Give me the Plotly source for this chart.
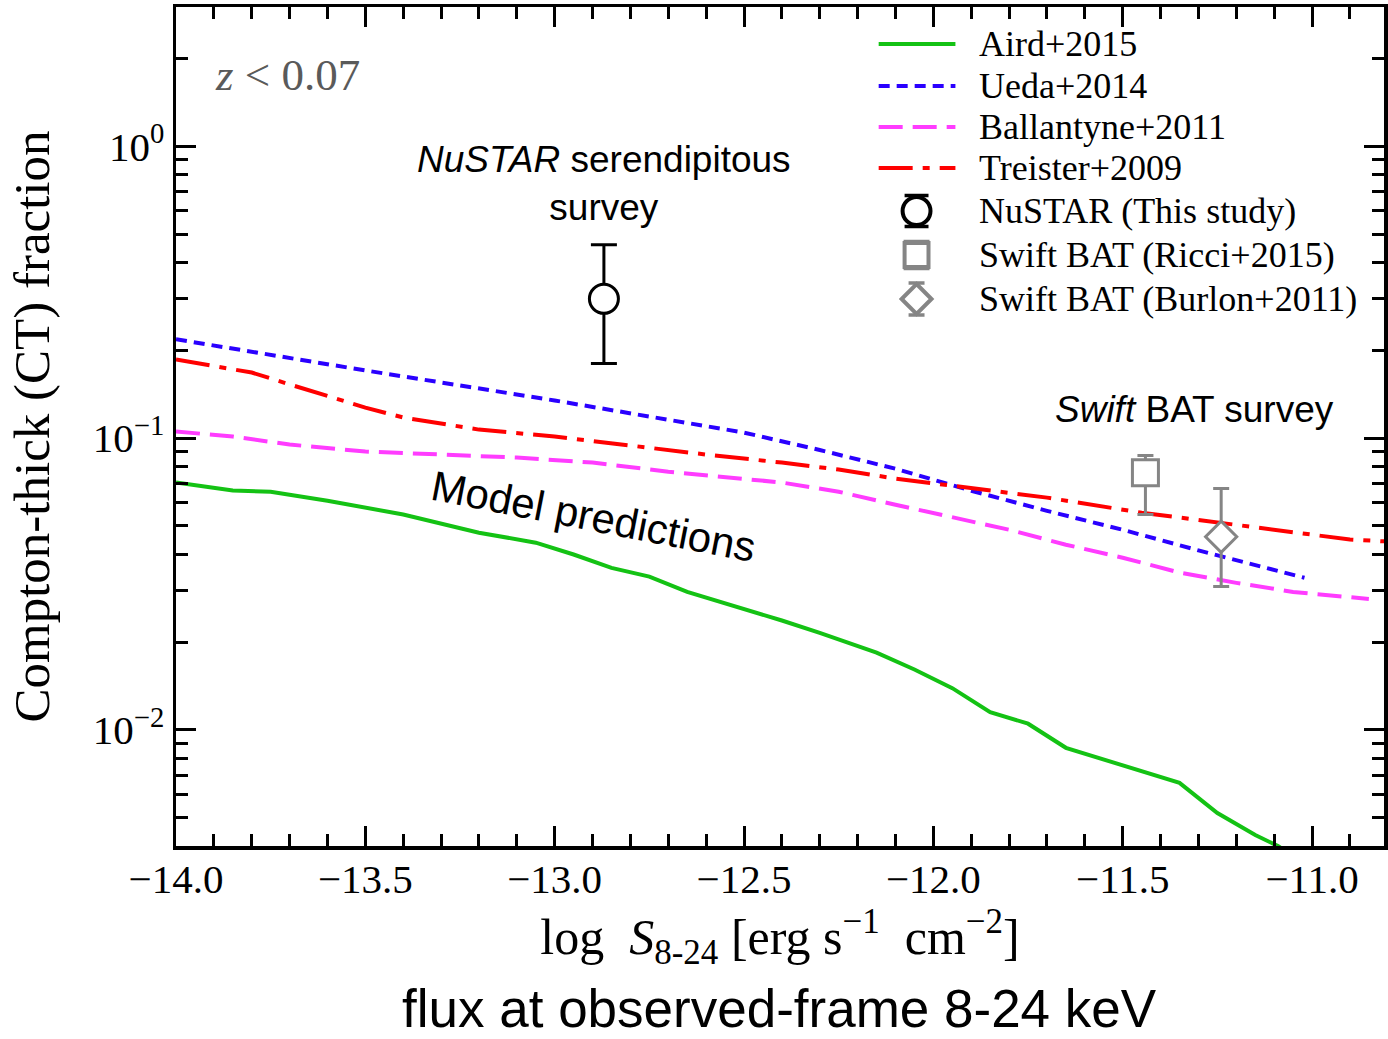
import math
import plotly.graph_objects as go

# ---------------- model curves: CT fraction vs log S(8-24 keV) ----------------
aird_logS = [-14.0, -13.85, -13.75, -13.6, -13.4, -13.2, -13.05, -12.95, -12.85,
             -12.75, -12.65, -12.5, -12.4, -12.3, -12.2, -12.15, -12.05, -11.95,
             -11.85, -11.75, -11.65, -11.45, -11.35, -11.25, -11.15, -11.09, -11.05]
aird_frac = [0.0704, 0.0661, 0.0655, 0.0610, 0.0547, 0.0474, 0.0438, 0.0399, 0.0359,
             0.0335, 0.0297, 0.0260, 0.0237, 0.0215, 0.0194, 0.0184, 0.0161, 0.0139,
             0.0115, 0.0105, 0.00868, 0.00723, 0.00658, 0.00519, 0.00436, 0.0040, 0.0037]

ueda_logS = [-14.0, -13.5, -13.0, -12.5, -12.3, -12.1, -11.9, -11.7, -11.5, -11.3, -11.02]
ueda_frac = [0.218, 0.1705, 0.1345, 0.1044, 0.0910, 0.0785, 0.0660, 0.0563, 0.0485, 0.0412, 0.0332]

ballantyne_logS = [-14.0, -13.85, -13.7, -13.5, -13.3, -13.1, -12.9, -12.7, -12.4, -12.25,
                   -12.1, -11.95, -11.8, -11.65, -11.5, -11.35, -11.2, -11.05, -10.85]
ballantyne_frac = [0.1053, 0.1012, 0.0950, 0.0899, 0.0878, 0.0857, 0.0824, 0.0767, 0.0704,
                   0.0655, 0.0591, 0.0534, 0.0485, 0.0431, 0.0389, 0.0346, 0.0319, 0.0297, 0.0281]

treister_logS = [-14.0, -13.8, -13.7, -13.5, -13.4, -13.2, -13.0, -12.8, -12.6, -12.4,
                 -12.25, -12.1, -11.9, -11.7, -11.45, -11.25, -11.05, -10.9, -10.8]
treister_frac = [0.1858, 0.1677, 0.1527, 0.1272, 0.1176, 0.1069, 0.1012, 0.0942, 0.0878,
                 0.0824, 0.0780, 0.0726, 0.0676, 0.0625, 0.0555, 0.0513, 0.0474, 0.0449, 0.0442]

# ---------------- measured CT fractions ----------------
nustar_logS = [-12.87]
nustar_frac = [0.30]
nustar_err_hi = [0.16]
nustar_err_lo = [0.12]

ricci_logS = [-11.44]
ricci_frac = [0.0761]
ricci_err_hi = [0.011]
ricci_err_lo = [0.0214]

burlon_logS = [-11.24]
burlon_frac = [0.0459]
burlon_err_hi = [0.0212]
burlon_err_lo = [0.0149]

# ---------------- axis ticks ----------------
x_tickvals = [-14.0, -13.5, -13.0, -12.5, -12.0, -11.5, -11.0]
y_tickvals = [1.0, 0.1, 0.01]
y_ticktext = ["10<sup>0</sup>", "10<sup>\u22121</sup>", "10<sup>\u22122</sup>"]

series_labels = ["Aird+2015", "Ueda+2014", "Ballantyne+2011", "Treister+2009"]
point_labels = ["NuSTAR (This study)", "Swift BAT (Ricci+2015)", "Swift BAT (Burlon+2011)"]

GREEN, BLUE, MAGENTA, RED = "#14c214", "#2a00ff", "#ff3cff", "#ff0000"
GRAY = "#858585"
SERIF = "Liberation Serif"
SANS = "Liberation Sans"

DASH_UEDA = "11px,7px"
DASH_BALL = "24px,10px"
DASH_TREI = "34px,10px,7px,10px"

W, H = 1388, 1039
PL, PR, PT, PB = 176, 1388, 7, 846  # plot-area edges in pixels


def fx(xp):
    return (xp - PL) / (PR - PL)


def fy(yp):
    return (PB - yp) / (PB - PT)


fig = go.Figure()

curves = [
    (aird_logS, aird_frac, GREEN, "solid"),
    (ueda_logS, ueda_frac, BLUE, DASH_UEDA),
    (ballantyne_logS, ballantyne_frac, MAGENTA, DASH_BALL),
    (treister_logS, treister_frac, RED, DASH_TREI),
]
for (xs, ys, col, dash), name in zip(curves, series_labels):
    fig.add_trace(go.Scatter(x=xs, y=ys, mode="lines", name=name,
                             line=dict(color=col, width=4, dash=dash)))

fig.add_trace(go.Scatter(
    x=nustar_logS, y=nustar_frac, mode="markers", name=point_labels[0],
    marker=dict(symbol="circle", size=29, color="white", line=dict(color="black", width=3)),
    error_y=dict(type="data", array=nustar_err_hi, arrayminus=nustar_err_lo,
                 color="black", thickness=3, width=13)))
fig.add_trace(go.Scatter(
    x=ricci_logS, y=ricci_frac, mode="markers", name=point_labels[1],
    marker=dict(symbol="square", size=26, color="white", line=dict(color=GRAY, width=3)),
    error_y=dict(type="data", array=ricci_err_hi, arrayminus=ricci_err_lo,
                 color=GRAY, thickness=3, width=8)))
fig.add_trace(go.Scatter(
    x=burlon_logS, y=burlon_frac, mode="markers", name=point_labels[2],
    marker=dict(symbol="diamond", size=24, color="white", line=dict(color=GRAY, width=3)),
    error_y=dict(type="data", array=burlon_err_hi, arrayminus=burlon_err_lo,
                 color=GRAY, thickness=3, width=8)))

# ---------------- hand-drawn legend ----------------
shapes = []
annotations = []
row_y = [44, 86, 127, 168, 211, 255, 299]
line_styles = [(GREEN, "solid"), (BLUE, DASH_UEDA), (MAGENTA, DASH_BALL), (RED, DASH_TREI)]
for (col, dash), yy in zip(line_styles, row_y[:4]):
    shapes.append(dict(type="line", xref="paper", yref="paper",
                       x0=fx(881), x1=fx(958), y0=fy(yy), y1=fy(yy),
                       line=dict(color=col, width=4, dash=dash)))
mx = 919
# circle with caps
yy = row_y[4]
shapes.append(dict(type="circle", xref="paper", yref="paper",
                   x0=fx(mx - 14), x1=fx(mx + 14), y0=fy(yy + 14), y1=fy(yy - 14),
                   line=dict(color="black", width=4), fillcolor="white"))
for d in (-15.5, 15.5):
    shapes.append(dict(type="line", xref="paper", yref="paper",
                       x0=fx(mx - 12), x1=fx(mx + 12), y0=fy(yy + d), y1=fy(yy + d),
                       line=dict(color="black", width=3.5)))
# square with caps
yy = row_y[5]
shapes.append(dict(type="rect", xref="paper", yref="paper",
                   x0=fx(mx - 12), x1=fx(mx + 12), y0=fy(yy + 12), y1=fy(yy - 12),
                   line=dict(color=GRAY, width=4), fillcolor="white"))
for d in (-13.5, 13.5):
    shapes.append(dict(type="line", xref="paper", yref="paper",
                       x0=fx(mx - 13), x1=fx(mx + 13), y0=fy(yy + d), y1=fy(yy + d),
                       line=dict(color=GRAY, width=3.5)))
# diamond with caps
yy = row_y[6]
r = 15
path = "M {} {} L {} {} L {} {} L {} {} Z".format(
    fx(mx), fy(yy - r), fx(mx + r), fy(yy), fx(mx), fy(yy + r), fx(mx - r), fy(yy))
shapes.append(dict(type="path", xref="paper", yref="paper", path=path,
                   line=dict(color=GRAY, width=4), fillcolor="white"))
for d in (-16, 16):
    shapes.append(dict(type="line", xref="paper", yref="paper",
                       x0=fx(mx - 8), x1=fx(mx + 8), y0=fy(yy + d), y1=fy(yy + d),
                       line=dict(color=GRAY, width=3.5)))

for lab, yy in zip(series_labels + point_labels, row_y):
    annotations.append(dict(xref="paper", yref="paper", x=fx(980), y=fy(yy),
                            xanchor="left", yanchor="middle", showarrow=False, text=lab,
                            font=dict(family=SERIF, size=36, color="black")))

# ---------------- text labels ----------------
annotations += [
    dict(xref="paper", yref="paper", x=fx(213), y=fy(75), xanchor="left", yanchor="middle",
         showarrow=False, text="<i>z</i>\u2005<\u20050.07",
         font=dict(family=SERIF, size=45, color="#5a5a5a")),
    dict(xref="paper", yref="paper", x=fx(605), y=fy(184), xanchor="center", yanchor="middle",
         showarrow=False, text="<i>NuSTAR</i> serendipitous<br>survey",
         font=dict(family=SANS, size=37, color="black")),
    dict(xref="paper", yref="paper", x=fx(1198), y=fy(410), xanchor="center", yanchor="middle",
         showarrow=False, text="<i>Swift</i> BAT survey",
         font=dict(family=SANS, size=37, color="black")),
    dict(xref="paper", yref="paper", x=fx(595), y=fy(516), xanchor="center", yanchor="middle",
         showarrow=False, text="Model predictions", textangle=11,
         font=dict(family=SANS, size=42, color="black")),
    dict(xref="paper", yref="paper", x=fx(781), y=fy(1040), xanchor="center", yanchor="bottom",
         showarrow=False, text="flux at observed-frame 8-24 keV",
         font=dict(family=SANS, size=53, color="black")),
]

axis_common = dict(showline=True, linecolor="black", linewidth=3.5, mirror="ticks",
                   ticks="inside", ticklen=20, tickwidth=3, tickcolor="black",
                   showgrid=False, zeroline=False)

fig.update_layout(
    width=W, height=H,
    margin=dict(l=PL, r=W - PR, t=PT, b=H - PB),
    paper_bgcolor="white", plot_bgcolor="white",
    showlegend=False, hovermode=False,
    shapes=shapes, annotations=annotations,
    xaxis=dict(range=[-14.0, -10.81], tickvals=x_tickvals, tickformat=".1f",
               minor=dict(ticks="inside", ticklen=12, tickwidth=3, tickcolor="black",
                          dtick=0.1, tick0=-14.0, showgrid=False),
               tickfont=dict(family=SERIF, size=41, color="black"),
               ticklabelstandoff=-6,
               title=dict(text="log\u2002<i>S</i><sub>8-24</sub>\u00a0[erg\u00a0s<sup>\u22121</sup>\u00a0\u00a0cm<sup>\u22122</sup>]",
                          font=dict(family=SERIF, size=50, color="black"), standoff=9),
               **axis_common),
    yaxis=dict(type="log", range=[math.log10(0.004), math.log10(3.0)],
               tickvals=y_tickvals, ticktext=y_ticktext,
               minor=dict(ticks="inside", ticklen=12, tickwidth=3, tickcolor="black",
                          dtick="D1", showgrid=False),
               tickfont=dict(family=SERIF, size=41, color="black"),
               title=dict(text="Compton-thick (CT) fraction",
                          font=dict(family=SERIF, size=51, color="black"), standoff=28),
               **axis_common),
)

fig.write_html("out.html", config={"displayModeBar": False, "staticPlot": True})
